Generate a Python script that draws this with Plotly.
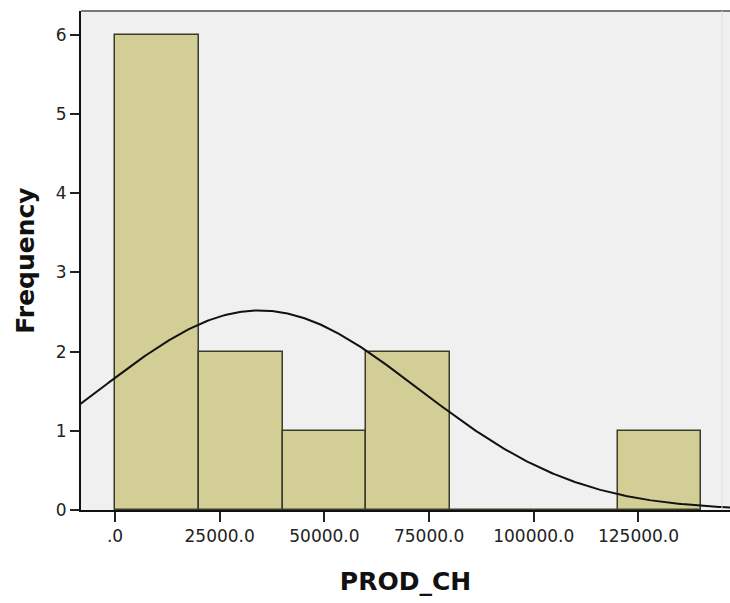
import numpy as np
import plotly.graph_objects as go

# Histogram data (PROD_CH)
bin_starts = [0, 20000, 40000, 60000, 80000, 100000, 120000]
counts = [6, 2, 1, 2, 0, 0, 1]
bin_width = 20000

# Fitted normal curve parameters (as in SPSS output)
n_obs = 12
mean_val = 34500.0
std_val = 38000.0

x_tickvals = [0, 25000, 50000, 75000, 100000, 125000]
x_ticktext = [".0", "25000.0", "50000.0", "75000.0", "100000.0", "125000.0"]
y_tickvals = [0, 1, 2, 3, 4, 5, 6]

xs = np.linspace(-12000, 150000, 400)
ys = n_obs * bin_width / (std_val * np.sqrt(2 * np.pi)) * np.exp(-0.5 * ((xs - mean_val) / std_val) ** 2)

fig = go.Figure()
fig.add_trace(go.Bar(
    x=bin_starts, y=counts, width=bin_width, offset=0,
    marker=dict(color="#d3ce96", line=dict(color="#3b3b2a", width=1.5)),
    hoverinfo="skip", showlegend=False,
))
fig.add_trace(go.Scatter(
    x=xs, y=ys, mode="lines", line=dict(color="#111111", width=2),
    hoverinfo="skip", showlegend=False,
))

tick_font = dict(family="DejaVu Sans", size=17, color="#222222")
title_font = dict(family="DejaVu Sans", size=25, color="#111111")

fig.update_layout(
    width=730, height=603,
    margin=dict(l=81, r=0, t=11, b=93),
    paper_bgcolor="white",
    plot_bgcolor="#f0f0f0",
    bargap=0,
    xaxis=dict(
        range=[-8118, 146850],
        tickvals=x_tickvals, ticktext=x_ticktext,
        ticks="outside", ticklen=10, tickwidth=1.5, tickcolor="#222222",
        showline=True, linecolor="#111111", linewidth=2,
        showgrid=False, zeroline=False,
        tickfont=tick_font,
        title=dict(text="<b>PROD_CH</b>", font=title_font, standoff=27),
    ),
    yaxis=dict(
        range=[0, 6.30],
        tickvals=y_tickvals,
        ticks="outside", ticklen=9, tickwidth=1.5, tickcolor="#222222",
        showline=True, linecolor="#111111", linewidth=2,
        showgrid=False, zeroline=False,
        tickfont=tick_font,
        title=dict(text="<b>Frequency</b>", font=title_font, standoff=14),
    ),
    shapes=[
        dict(type="line", xref="paper", yref="paper", x0=0, x1=1, y0=1, y1=1,
             line=dict(color="#7a7a7a", width=2)),
        dict(type="line", xref="paper", yref="paper", x0=0.9877, x1=0.9877, y0=0, y1=1,
             line=dict(color="#dcdcdc", width=1)),
    ],
)

fig.write_html("out.html")
